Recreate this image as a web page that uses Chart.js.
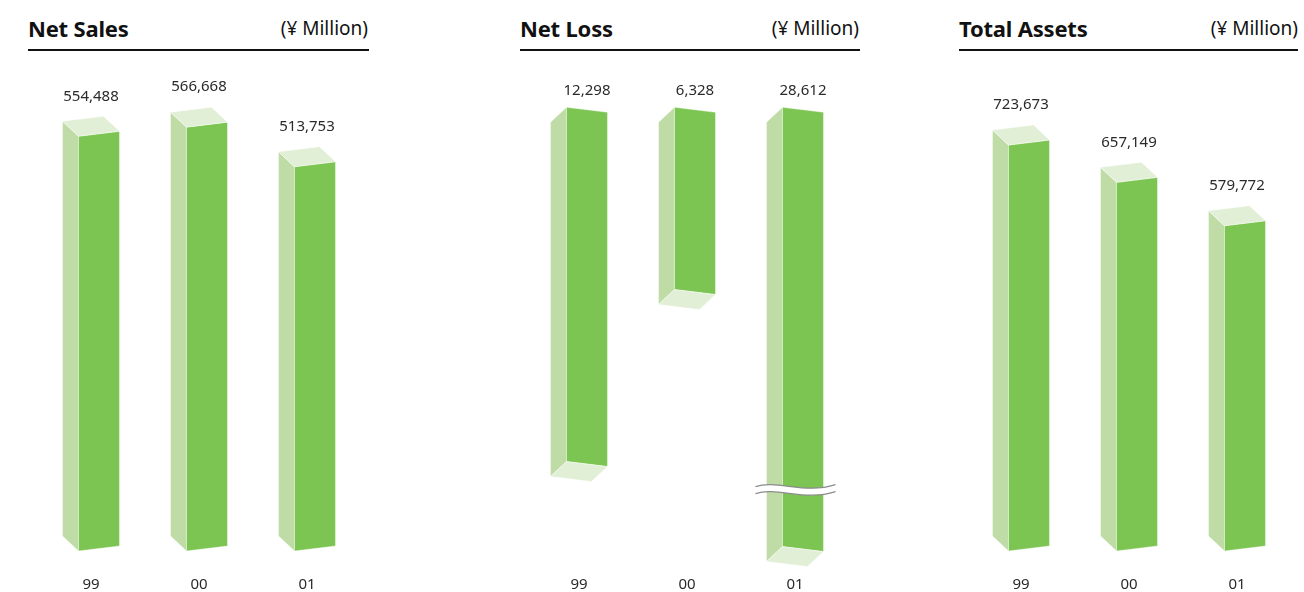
<!DOCTYPE html>
<html>
<head>
<meta charset="utf-8">
<script src="https://cdn.jsdelivr.net/npm/chart.js@4.4.1/dist/chart.umd.min.js"></script>
<style>
  html, body { margin:0; padding:0; background:#fff; }
  body { width:1304px; height:592px; position:relative; overflow:hidden; font-family:"Noto Sans", sans-serif; color:#111; }
  canvas { position:absolute; left:0; top:0; }
  .title { position:absolute; font-weight:bold; font-size:22px; line-height:22px; top:16.5px; letter-spacing:-0.2px; white-space:nowrap; }
  .unit { position:absolute; font-size:19px; line-height:19px; top:19.2px; white-space:nowrap; }
  .rule { position:absolute; top:49.4px; height:1.4px; background:#111; }
</style>
</head>
<body>
<div class="title" style="left:28px">Net Sales</div>
<div class="unit" style="right:936px">(¥ Million)</div>
<div class="rule" style="left:28px; width:341px"></div>

<div class="title" style="left:520px">Net Loss</div>
<div class="unit" style="right:445px">(¥ Million)</div>
<div class="rule" style="left:520px; width:340px"></div>

<div class="title" style="left:959px">Total Assets</div>
<div class="unit" style="right:6px">(¥ Million)</div>
<div class="rule" style="left:959px; width:339px"></div>

<canvas id="c1" width="1304" height="592"></canvas>
<canvas id="c2" width="1304" height="592"></canvas>
<canvas id="c3" width="1304" height="592"></canvas>

<script>
// ---- data ----
const years = ["99", "00", "01"];
const netSales = [554488, 566668, 513753];
const netLoss = [12298, 6328, 28612];
const totalAssets = [723673, 657149, 579772];

// ---- style ----
const FRONT = "#7CC552";
const SIDE = "#BFDCA6";
const TOPF = "#E1EFD6";
const SIDE_W = 16, DEPTH = 15, SLANT = 5;

function poly(ctx, pts, color) {
  ctx.beginPath();
  ctx.moveTo(pts[0][0], pts[0][1]);
  for (let i = 1; i < pts.length; i++) ctx.lineTo(pts[i][0], pts[i][1]);
  ctx.closePath();
  ctx.fillStyle = color;
  ctx.fill();
  ctx.strokeStyle = "rgba(255,255,255,0.7)";
  ctx.lineWidth = 0.6;
  ctx.stroke();
}

function drawBreak(ctx, xa, xb, y) {
  const L = xb - xa;
  const curve = (yy) => {
    ctx.moveTo(xa, yy + 2);
    ctx.bezierCurveTo(xa + L * 0.27, yy - 5, xa + L * 0.62, yy + 10, xb, yy);
  };
  ctx.save();
  ctx.beginPath();
  curve(y);
  ctx.lineTo(xb, y + 7);
  ctx.bezierCurveTo(xa + L * 0.62, y + 17, xa + L * 0.27, y + 2, xa, y + 9);
  ctx.closePath();
  ctx.fillStyle = "#fff";
  ctx.fill();
  ctx.strokeStyle = "#8c8c8c";
  ctx.lineWidth = 1.3;
  ctx.beginPath(); curve(y); ctx.stroke();
  ctx.beginPath(); curve(y + 7); ctx.stroke();
  ctx.restore();
}

const bars3d = {
  id: "bars3d",
  afterDatasetsDraw(chart, args, opts) {
    const ctx = chart.ctx;
    const meta = chart.getDatasetMeta(0);
    const data = chart.data.datasets[0].data;
    const area = chart.chartArea;
    ctx.save();
    meta.data.forEach((el, i) => {
      const w = el.width;
      const x0 = el.x - w / 2 + SIDE_W;
      const x1 = el.x + w / 2;
      const label = data[i].toLocaleString("en-US");
      ctx.font = "15px 'Noto Sans'";
      ctx.textAlign = "center";
      ctx.textBaseline = "middle";
      if (!opts.hanging) {
        const yt = el.y, yb = el.base;
        poly(ctx, [[x0, yt], [x0 - SIDE_W, yt - DEPTH], [x0 - SIDE_W, yb - DEPTH], [x0, yb]], SIDE);
        poly(ctx, [[x0, yt], [x1, yt - SLANT], [x1, yb - SLANT], [x0, yb]], FRONT);
        poly(ctx, [[x0, yt], [x0 - SIDE_W, yt - DEPTH], [x1 - SIDE_W, yt - DEPTH - SLANT], [x1, yt - SLANT]], TOPF);
        ctx.fillStyle = "#2a2a2a";
        ctx.fillText(label, el.x, yt - DEPTH - SLANT - 20);
      } else {
        const yt = el.base;
        const clipped = el.y > area.bottom;
        const ye = Math.min(el.y, area.bottom);
        poly(ctx, [[x0, yt], [x0 - SIDE_W, yt + DEPTH], [x0 - SIDE_W, ye + DEPTH], [x0, ye]], SIDE);
        poly(ctx, [[x0, yt], [x1, yt + SLANT], [x1, ye + SLANT], [x0, ye]], FRONT);
        poly(ctx, [[x0, ye], [x0 - SIDE_W, ye + DEPTH], [x1 - SIDE_W, ye + DEPTH + SLANT], [x1, ye + SLANT]], TOPF);
        if (clipped) drawBreak(ctx, x0 - SIDE_W - 11, x1 + 12, ye - 62);
        ctx.fillStyle = "#2a2a2a";
        ctx.fillText(label, (x0 + x1) / 2, yt - 17);
      }
    });
    ctx.restore();
  }
};

function makeChart(id, values, yMax, reverse, padding, tickPad, hanging) {
  return new Chart(document.getElementById(id), {
    type: "bar",
    data: {
      labels: years,
      datasets: [{
        data: values,
        backgroundColor: "rgba(0,0,0,0)",
        borderWidth: 0,
        barPercentage: 57 / 108,
        categoryPercentage: 1
      }]
    },
    options: {
      responsive: false,
      animation: false,
      events: [],
      layout: { padding: padding },
      plugins: { legend: { display: false }, tooltip: { enabled: false }, bars3d: { hanging: hanging } },
      scales: {
        x: {
          offset: true,
          grid: { display: false, drawTicks: false },
          border: { display: false },
          ticks: { color: "#2a2a2a", padding: tickPad, font: { family: "'Noto Sans'", size: 15, lineHeight: 1 } }
        },
        y: { display: false, min: 0, max: yMax, reverse: reverse }
      }
    },
    plugins: [bars3d]
  });
}

makeChart("c1", netSales, 700000, false, { left: 37, right: 943, top: 27.4, bottom: -27 }, 26.5, false);
makeChart("c2", netLoss, 15250, true, { left: 525, right: 455, top: 107.3, bottom: -31.6 }, 31, true);
makeChart("c3", totalAssets, 900000, false, { left: 967, right: 13, top: 46.1, bottom: -27 }, 26.5, false);
</script>
</body>
</html>
